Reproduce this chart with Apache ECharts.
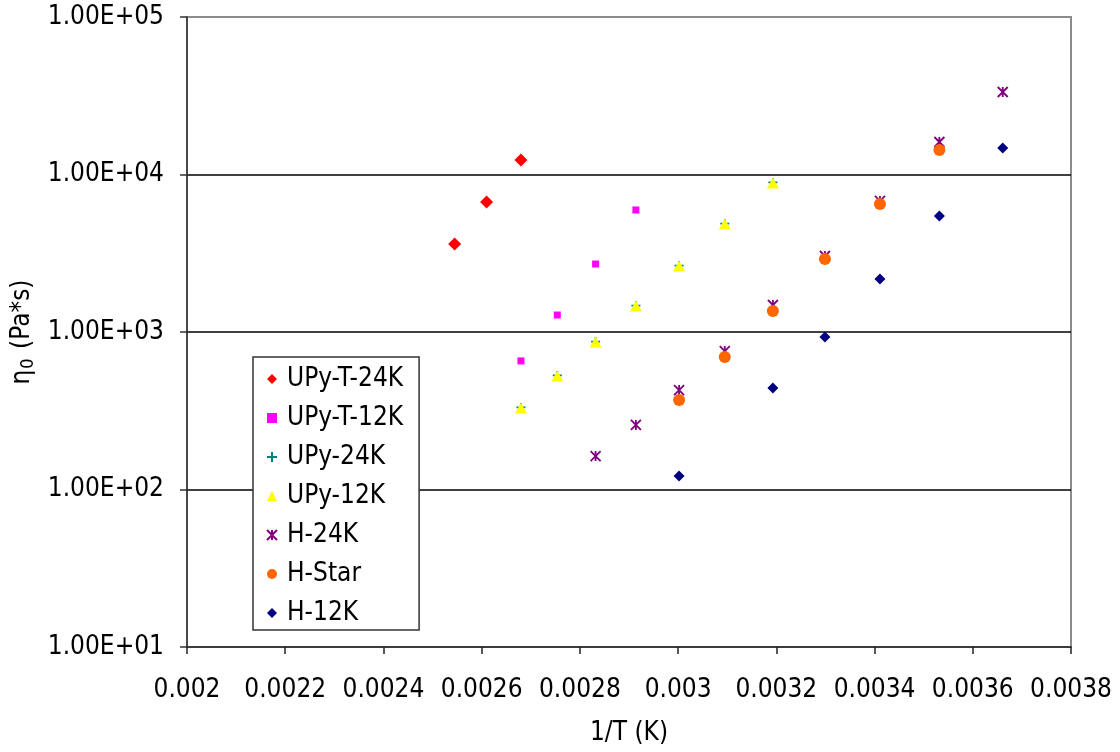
<!DOCTYPE html>
<html>
<head>
<meta charset="utf-8">
<script src="https://cdn.jsdelivr.net/npm/echarts@6/dist/echarts.min.js"></script>
<style>html,body{margin:0;padding:0;background:#fff}#c{width:1120px;height:752px}</style>
</head>
<body>
<div id="c"></div>
<script>
// 1/T values (K^-1)
const xTickLabels = ['0.002','0.0022','0.0024','0.0026','0.0028','0.003','0.0032','0.0034','0.0036','0.0038'];
const yTickLabels = ['1.00E+01','1.00E+02','1.00E+03','1.00E+04','1.00E+05'];

const upyT24K_x = [0.002545, 0.002610, 0.002680];
const upyT24K_y = [3620, 6690, 12360];

const upyT12K_x = [0.002680, 0.002754, 0.002832, 0.002914];
const upyT12K_y = [655, 1282, 2702, 5954];

const upy24K_x = [0.002680, 0.002754, 0.002832, 0.002914, 0.003002, 0.003095, 0.003193];
const upy24K_y = [332, 530, 870, 1470, 2640, 4880, 8900];

const upy12K_x = [0.002680, 0.002754, 0.002832, 0.002914, 0.003002, 0.003095, 0.003193];
const upy12K_y = [329, 526, 864, 1463, 2626, 4850, 8836];

const h24K_x = [0.002832, 0.002914, 0.003002, 0.003095, 0.003193, 0.003299, 0.003411, 0.003532, 0.003661];
const h24K_y = [163, 257, 428, 757, 1484, 3038, 6790, 16080, 33400];

const hStar_x = [0.003002, 0.003095, 0.003193, 0.003299, 0.003411, 0.003532];
const hStar_y = [370, 694, 1360, 2906, 6498, 14310];

const h12K_x = [0.003002, 0.003193, 0.003299, 0.003411, 0.003532, 0.003661];
const h12K_y = [122, 441, 930, 2171, 5453, 14730];

const seriesNames = ['UPy-T-24K','UPy-T-12K','UPy-24K','UPy-12K','H-24K','H-Star','H-12K'];

function pts(xs, ys){ return xs.map((x,i)=>[x, ys[i]]); }

const FONT = '"DejaVu Sans Condensed", "DejaVu Sans", sans-serif';
const FS = 26;

const chart = echarts.init(document.getElementById('c'), null, {renderer:'canvas'});
const option = {
  backgroundColor: '#ffffff',
  animation: false,
  textStyle: {fontFamily: FONT},
  grid: {left:187, right:49, top:17, bottom:105, show:true, borderColor:'#8c8c8c', borderWidth:2, backgroundColor:'#fff'},
  xAxis: {
    type:'value', min:0.002, max:0.0038, interval:0.0002,
    name:'1/T (K)', nameLocation:'middle', nameGap:73,
    nameTextStyle:{fontFamily:FONT, fontSize:FS, color:'#000'},
    axisLine:{show:true, onZero:false, lineStyle:{color:'#222', width:1.5}},
    axisTick:{show:true, inside:false, length:7, lineStyle:{color:'#222', width:1.5}},
    axisLabel:{fontFamily:FONT, fontSize:FS, color:'#000', margin:30,
      formatter:(v)=>xTickLabels[Math.round((v-0.002)/0.0002)]},
    splitLine:{show:false}
  },
  yAxis: {
    type:'log', logBase:10, min:10, max:100000,
    name:'{e|η}{s|0}{e| (Pa*s)}', nameLocation:'middle', nameGap:142, nameRotate:90,
    nameTextStyle:{fontFamily:FONT, fontSize:FS, color:'#000',
      rich:{e:{fontFamily:FONT, fontSize:FS, color:'#000', lineHeight:30},
            s:{fontFamily:FONT, fontSize:18, color:'#000', padding:[11,2,0,1]}}},
    axisLine:{show:true, lineStyle:{color:'#333', width:1.5}},
    axisTick:{show:true, inside:false, length:7, lineStyle:{color:'#333', width:1.5}},
    minorTick:{show:false},
    axisLabel:{fontFamily:FONT, fontSize:FS, color:'#000', margin:23,
      formatter:(v)=>yTickLabels[Math.round(Math.log10(v))-1]},
    splitLine:{show:true, showMinLine:false, showMaxLine:false, lineStyle:{color:'#000', width:1.5}}
  },
  legend: {
    show:true, orient:'vertical', left:253, top:357,
    padding:[9,16,4,13], itemGap:13, itemWidth:10, itemHeight:10,
    backgroundColor:'#fff', borderColor:'#333', borderWidth:1.5,
    textStyle:{fontFamily:FONT, fontSize:FS, color:'#000', padding:[0,0,0,5]},
    data: seriesNames
  },
  series: [
    {name:seriesNames[0], type:'scatter', symbol:'diamond', symbolSize:13,
     itemStyle:{color:'#ff0000', opacity:1}, data:pts(upyT24K_x, upyT24K_y)},
    {name:seriesNames[1], type:'scatter', symbol:'rect', symbolSize:7,
     itemStyle:{color:'#ff00ff', opacity:1}, data:pts(upyT12K_x, upyT12K_y)},
    {name:seriesNames[2], type:'scatter', symbol:'path://M5,0L5,10M0,5L10,5', symbolSize:9,
     itemStyle:{color:'rgba(0,0,0,0)', borderColor:'#008080', borderWidth:1.8, opacity:1}, data:pts(upy24K_x, upy24K_y)},
    {name:seriesNames[3], type:'scatter', symbol:'triangle', symbolSize:[12,11],
     itemStyle:{color:'#ffff00', opacity:1}, data:pts(upy12K_x, upy12K_y)},
    {name:seriesNames[4], type:'scatter', symbol:'path://M0,0L10,10M10,0L0,10M5,0L5,10', symbolSize:10,
     itemStyle:{color:'rgba(0,0,0,0)', borderColor:'#800080', borderWidth:1.8, opacity:1}, data:pts(h24K_x, h24K_y)},
    {name:seriesNames[5], type:'scatter', symbol:'circle', symbolSize:12,
     itemStyle:{color:'#ff6600', opacity:1}, data:pts(hStar_x, hStar_y)},
    {name:seriesNames[6], type:'scatter', symbol:'diamond', symbolSize:11,
     itemStyle:{color:'#000080', opacity:1}, data:pts(h12K_x, h12K_y)}
  ]
};
chart.setOption(option);
</script>
</body>
</html>
